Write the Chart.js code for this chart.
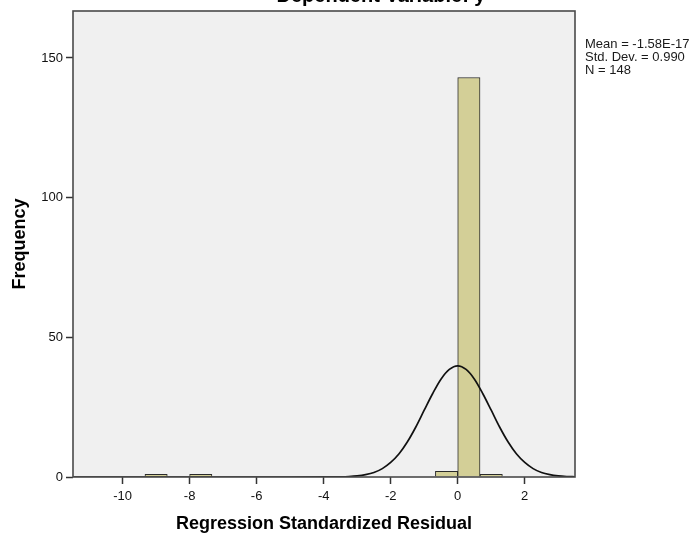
<!DOCTYPE html>
<html><head><meta charset="utf-8">
<script src="https://cdn.jsdelivr.net/npm/chart.js@4.4.1/dist/chart.umd.min.js"></script>
<style>html,body{margin:0;padding:0;background:#fff}#wrap{width:690px;height:536px;position:relative}</style>
</head><body><div id="wrap"><canvas id="c" width="690" height="536"></canvas></div>
<script>
// Histogram bins (centres of bins of width 2/3) and counts
const binCenters = [-9.0, -7.667, -0.333, 0.333, 1.0];
const binCounts = [1, 1, 2, 143, 1];
// Normal curve, values
const curveX = [-11.48, -5, -4, -3.5, -3.25, -3, -2.75, -2.5, -2.25, -2, -1.75, -1.5, -1.25, -1, -0.75, -0.5, -0.25, 0,
                0.25, 0.5, 0.75, 1, 1.25, 1.5, 1.75, 2, 2.25, 2.5, 2.75, 3, 3.25, 3.5];
const curveY = [0, 0, 0.01, 0.08, 0.18, 0.4, 0.84, 1.6, 3.0, 5.2, 8.3, 12.6, 17.9, 23.9, 29.8, 35.0, 38.5, 39.8,
                38.5, 35.0, 29.8, 23.9, 17.9, 12.6, 8.3, 5.2, 3.0, 1.6, 0.84, 0.4, 0.18, 0.08];
const xTicks = [-10, -8, -6, -4, -2, 0, 2];
const yTicks = [0, 50, 100, 150];
const xRange = [-11.48, 3.5];
const yRange = [0, 166.8];
const titleText = 'Dependent Variable: y';
const statsLines = ['Mean = -1.58E-17', 'Std. Dev. = 0.990', 'N = 148'];
const xTitle = 'Regression Standardized Residual';
const yTitle = 'Frequency';

const FONT = '"Liberation Sans", Arial, sans-serif';

const bgPlugin = {
  id: 'bg',
  beforeDraw(chart) {
    const {ctx, chartArea: a} = chart;
    ctx.save();
    ctx.fillStyle = '#ffffff';
    ctx.fillRect(0, 0, chart.width, chart.height);
    ctx.fillStyle = '#f0f0f0';
    ctx.fillRect(a.left, a.top, a.right - a.left, a.bottom - a.top);
    ctx.restore();
  },
  afterDatasetsDraw(chart) {
    const {ctx, chartArea: a} = chart;
    ctx.save();
    ctx.strokeStyle = '#4a4a4a';
    ctx.lineWidth = 1.6;
    ctx.strokeRect(a.left, a.top, a.right - a.left, a.bottom - a.top);
    ctx.restore();
  },
  afterDraw(chart) {
    const {ctx} = chart;
    ctx.save();
    ctx.fillStyle = '#000';
    ctx.font = 'bold 20px ' + FONT;
    ctx.textAlign = 'center';
    ctx.textBaseline = 'alphabetic';
    ctx.fillText(titleText, 381, 2);
    ctx.font = '13px ' + FONT;
    ctx.textAlign = 'left';
    ctx.textBaseline = 'middle';
    ctx.fillStyle = '#1a1a1a';
    statsLines.forEach((t, i) => ctx.fillText(t, 585, 44 + i * 13));
    ctx.restore();
  }
};

new Chart(document.getElementById('c'), {
  type: 'bar',
  data: {
    datasets: [
      {
        type: 'line',
        data: curveX.map((x, i) => ({x: x, y: curveY[i]})),
        borderColor: '#111111',
        borderWidth: 1.7,
        pointRadius: 0,
        cubicInterpolationMode: 'monotone',
        fill: false,
        order: 0
      },
      {
        type: 'bar',
        data: binCenters.map((x, i) => ({x: x, y: binCounts[i]})),
        backgroundColor: '#d3cf97',
        borderColor: '#2a2a2a',
        borderWidth: 1,
        categoryPercentage: 1.0,
        barPercentage: 1.0,
        order: 1
      }
    ]
  },
  options: {
    responsive: false,
    devicePixelRatio: 1,
    animation: false,
    layout: {padding: {left: 0, top: 11, right: 115, bottom: 0}},
    plugins: {legend: {display: false}, tooltip: {enabled: false}, title: {display: false}},
    scales: {
      x: {
        type: 'linear',
        min: xRange[0], max: xRange[1],
        offset: false,
        afterBuildTicks: s => { s.ticks = xTicks.map(v => ({value: v})); },
        afterFit: s => { s.height = 59; },
        ticks: {font: {size: 13, family: FONT}, color: '#111', padding: 5, maxRotation: 0, autoSkip: false},
        grid: {offset: false, drawOnChartArea: false, drawTicks: true, tickLength: 7, color: '#333', tickWidth: 1.5},
        border: {display: false},
        title: {display: true, text: xTitle, color: '#000', font: {size: 18, weight: 'bold', family: FONT}, padding: {top: 0, bottom: 1}}
      },
      y: {
        type: 'linear',
        min: yRange[0], max: yRange[1],
        afterBuildTicks: s => { s.ticks = yTicks.map(v => ({value: v})); },
        afterFit: s => { s.width = 73; },
        ticks: {font: {size: 13, family: FONT}, color: '#111', padding: 3},
        grid: {offset: false, drawOnChartArea: false, drawTicks: true, tickLength: 7, color: '#333', tickWidth: 1.5},
        border: {display: false},
        title: {display: true, text: yTitle, color: '#000', font: {size: 18, weight: 'bold', family: FONT}, padding: {top: 9, bottom: 0}}
      }
    }
  },
  plugins: [bgPlugin]
});
</script>
</body></html>
